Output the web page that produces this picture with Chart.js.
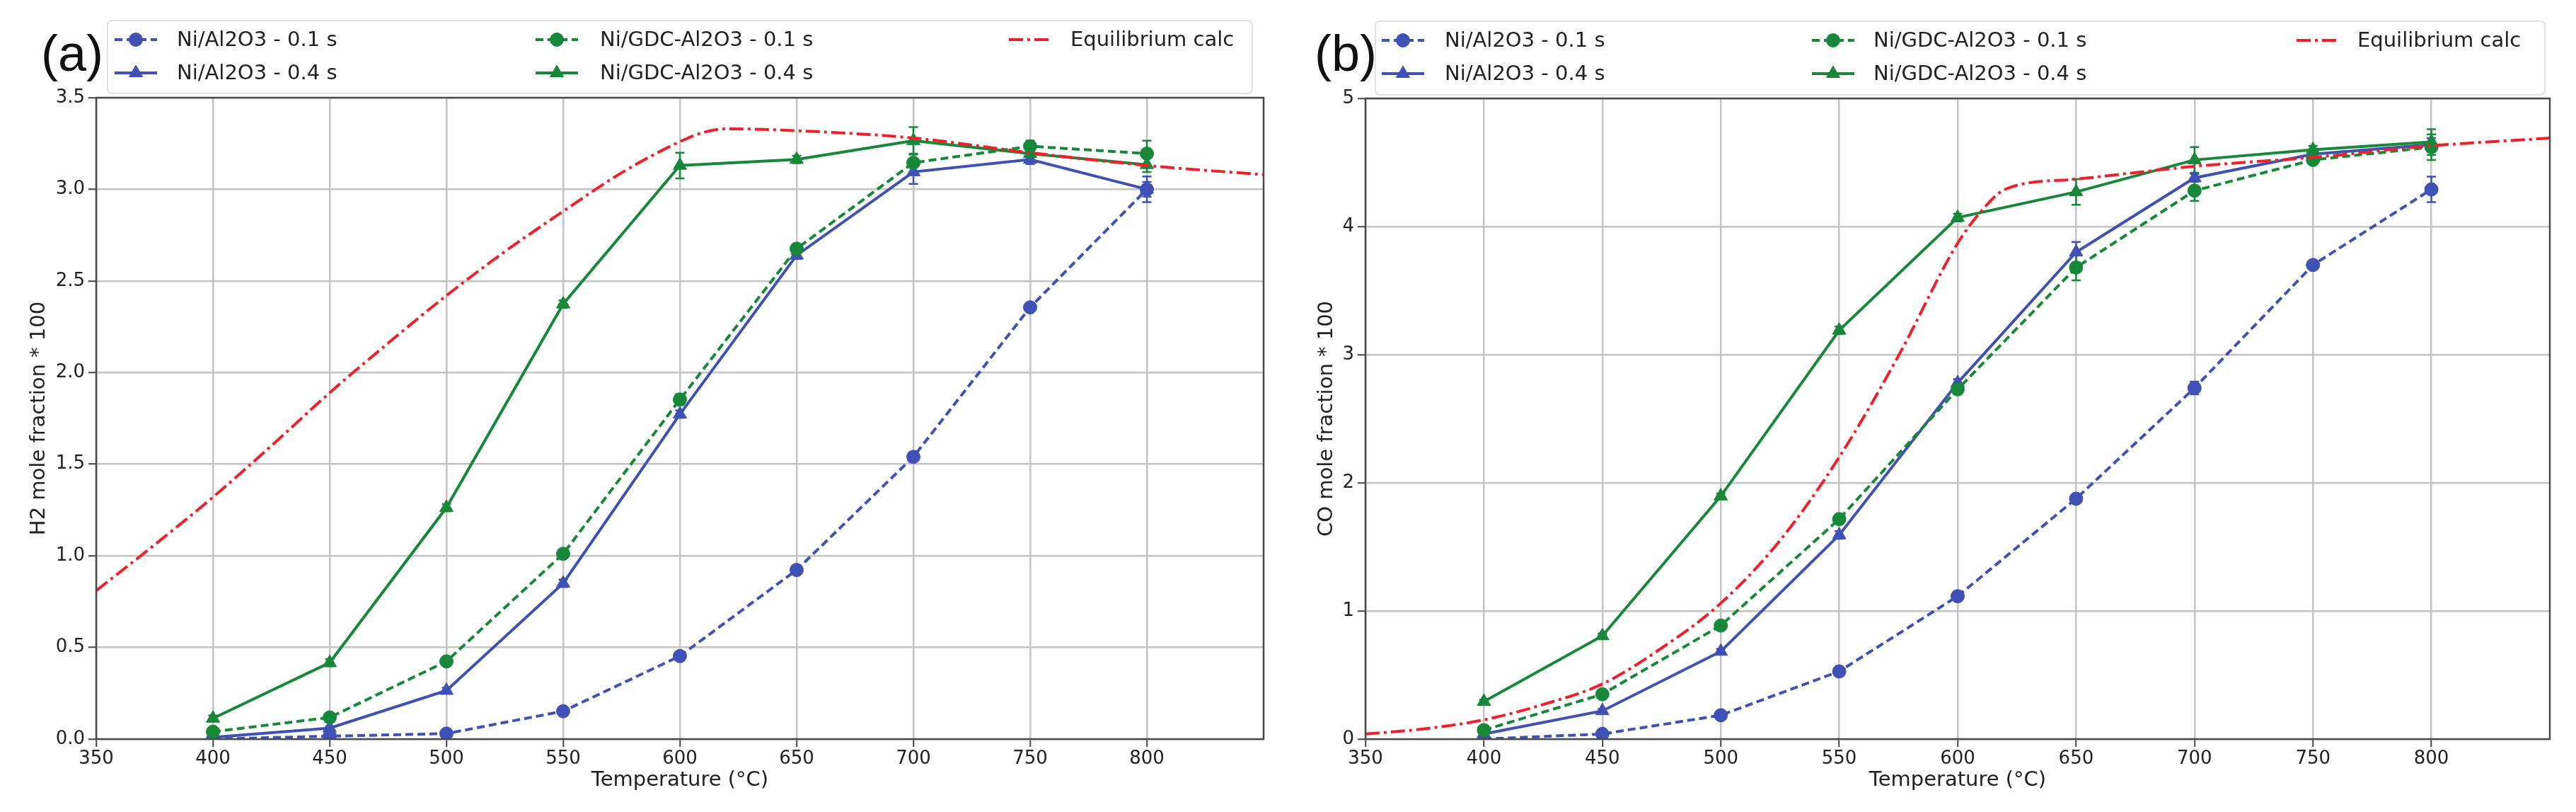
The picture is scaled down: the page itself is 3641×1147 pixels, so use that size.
<!DOCTYPE html>
<html>
<head>
<meta charset="utf-8">
<script src="https://cdn.jsdelivr.net/npm/chart.js@4.4.1/dist/chart.umd.min.js"></script>
<style>
  html, body { margin: 0; padding: 0; background: #fff; }
  #wrap { position: relative; width: 3641px; height: 1147px; overflow: hidden; }
  #wrap canvas { position: absolute; top: 0; }
  #chartA { left: 0; }
  #chartB { left: 1820px; }
</style>
</head>
<body>
<div id="wrap">
  <canvas id="chartA" width="1820" height="1147" style="width:1820px;height:1147px"></canvas>
  <canvas id="chartB" width="1821" height="1147" style="width:1821px;height:1147px"></canvas>
</div>
<script>
// measured temperatures (°C)
var temps = [400, 450, 500, 550, 600, 650, 700, 750, 800];
var eqTemps = [350, 375, 400, 425, 450, 475, 500, 525, 550, 575, 600, 610, 620, 650, 700, 750, 800, 850];

var seriesLabels = ['Ni/Al2O3 - 0.1 s', 'Ni/Al2O3 - 0.4 s', 'Ni/GDC-Al2O3 - 0.1 s', 'Ni/GDC-Al2O3 - 0.4 s', 'Equilibrium calc'];

// (a) H2 mole fraction * 100
var h2NiAl01  = [0.00, 0.016, 0.03, 0.152, 0.453, 0.923, 1.54, 2.356, 3.00];
var h2NiAl04  = [0.01, 0.06, 0.265, 0.85, 1.773, 2.64, 3.095, 3.163, 3.00];
var h2NiGdc01 = [0.04, 0.118, 0.424, 1.011, 1.853, 2.676, 3.145, 3.235, 3.195];
var h2NiGdc04 = [0.113, 0.417, 1.263, 2.374, 3.13, 3.163, 3.265, 3.195, 3.134];
var h2NiAl01Err  = [0.005, 0.005, 0.01, 0.015, 0.015, 0.02, 0.025, 0.02, 0.07];
var h2NiAl04Err  = [0.005, 0.01, 0.015, 0.02, 0.02, 0.02, 0.065, 0.025, 0.04];
var h2NiGdc01Err = [0.01, 0.015, 0.02, 0.02, 0.03, 0.02, 0.05, 0.03, 0.07];
var h2NiGdc04Err = [0.015, 0.02, 0.02, 0.02, 0.07, 0.02, 0.075, 0.02, 0.04];
var h2Eq = [0.81, 1.06, 1.32, 1.60, 1.89, 2.16, 2.42, 2.66, 2.88, 3.09, 3.26, 3.31, 3.33, 3.32, 3.28, 3.20, 3.13, 3.08];

// (b) CO mole fraction * 100
var coNiAl01  = [0.00, 0.04, 0.186, 0.528, 1.115, 1.876, 2.74, 3.70, 4.29];
var coNiAl04  = [0.04, 0.22, 0.684, 1.593, 2.78, 3.80, 4.38, 4.565, 4.64];
var coNiGdc01 = [0.07, 0.35, 0.886, 1.717, 2.73, 3.68, 4.28, 4.52, 4.62];
var coNiGdc04 = [0.293, 0.805, 1.896, 3.19, 4.07, 4.27, 4.52, 4.60, 4.66];
var coNiAl01Err  = [0.005, 0.01, 0.02, 0.02, 0.025, 0.03, 0.05, 0.03, 0.1];
var coNiAl04Err  = [0.01, 0.015, 0.02, 0.03, 0.03, 0.08, 0.03, 0.03, 0.05];
var coNiGdc01Err = [0.01, 0.02, 0.03, 0.03, 0.04, 0.1, 0.08, 0.03, 0.1];
var coNiGdc04Err = [0.015, 0.02, 0.02, 0.03, 0.03, 0.1, 0.1, 0.03, 0.1];
var coEq = [0.04, 0.08, 0.15, 0.27, 0.43, 0.71, 1.06, 1.55, 2.20, 2.99, 3.87, 4.12, 4.29, 4.37, 4.47, 4.54, 4.63, 4.69];

(function(){
  var BLUE = '#3f51b5';
  var GREEN = '#17883a';
  var RED = '#f0202a';
  var FONT = "'DejaVu Sans', 'Liberation Sans', sans-serif";
  var TEXT = '#222';
  var DASH = [11, 6];
  var DASHDOT = [20, 6, 4, 6];

  function pts(xs, ys){
    return xs.map(function(x, i){ return {x: x, y: ys[i]}; });
  }

  function roundedRect(ctx, x, y, w, h, r){
    ctx.beginPath();
    ctx.moveTo(x+r, y);
    ctx.lineTo(x+w-r, y);
    ctx.quadraticCurveTo(x+w, y, x+w, y+r);
    ctx.lineTo(x+w, y+h-r);
    ctx.quadraticCurveTo(x+w, y+h, x+w-r, y+h);
    ctx.lineTo(x+r, y+h);
    ctx.quadraticCurveTo(x, y+h, x, y+h-r);
    ctx.lineTo(x, y+r);
    ctx.quadraticCurveTo(x, y, x+r, y);
    ctx.closePath();
  }

  function marker(ctx, style, x, y, color){
    ctx.save();
    ctx.setLineDash([]);
    ctx.fillStyle = color;
    ctx.strokeStyle = color;
    ctx.lineWidth = 1;
    ctx.beginPath();
    if(style === 'triangle'){
      var r = 11;
      ctx.moveTo(x, y - r);
      ctx.lineTo(x + r*Math.sin(Math.PI*2/3), y - r*Math.cos(Math.PI*2/3));
      ctx.lineTo(x - r*Math.sin(Math.PI*2/3), y - r*Math.cos(Math.PI*2/3));
      ctx.closePath();
    } else {
      ctx.arc(x, y, 9.5, 0, Math.PI*2);
    }
    ctx.fill(); ctx.stroke();
    ctx.restore();
  }

  // error bars, axes frame, legend and panel tag
  var extrasPlugin = {
    id: 'extras',
    beforeDatasetsDraw: function(chart){
      var ctx = chart.ctx, xs = chart.scales.x, ys = chart.scales.y, a = chart.chartArea;
      ctx.save();
      ctx.beginPath();
      ctx.rect(a.left, a.top, a.right - a.left, a.bottom - a.top);
      ctx.clip();
      chart.data.datasets.forEach(function(ds){
        if(!ds.errs) return;
        ctx.strokeStyle = ds.borderColor;
        ctx.lineWidth = 2.5;
        ctx.setLineDash([]);
        ds.data.forEach(function(p, i){
          var e = ds.errs[i];
          var px = xs.getPixelForValue(p.x);
          var y1 = ys.getPixelForValue(p.y - e);
          var y2 = ys.getPixelForValue(p.y + e);
          if(y1 - y2 < 4) return;
          ctx.beginPath();
          ctx.moveTo(px, y1); ctx.lineTo(px, y2);
          ctx.moveTo(px - 6.5, y1); ctx.lineTo(px + 6.5, y1);
          ctx.moveTo(px - 6.5, y2); ctx.lineTo(px + 6.5, y2);
          ctx.stroke();
        });
      });
      ctx.restore();
    },
    afterDatasetsDraw: function(chart){
      var ctx = chart.ctx, a = chart.chartArea;
      ctx.save();
      ctx.strokeStyle = '#4a4a4a';
      ctx.lineWidth = 2.5;
      ctx.strokeRect(a.left, a.top, a.right - a.left, a.bottom - a.top);
      ctx.restore();
    },
    afterDraw: function(chart, args, opts){
      var ctx = chart.ctx;
      var lg = opts.legend;
      ctx.save();
      // legend box
      roundedRect(ctx, lg.box[0], lg.box[1], lg.box[2], lg.box[3], 7);
      ctx.fillStyle = 'rgba(255,255,255,0.85)';
      ctx.fill();
      ctx.strokeStyle = '#d9d9d9';
      ctx.lineWidth = 1.5;
      ctx.stroke();

      ctx.font = '29px ' + FONT;
      ctx.textBaseline = 'middle';
      ctx.textAlign = 'left';
      chart.data.datasets.forEach(function(ds, i){
        var col = Math.floor(i / 2), row = i % 2;
        var hx = lg.handleX[col], tx = lg.textX[col], hy = lg.rows[row];
        ctx.strokeStyle = ds.borderColor;
        ctx.lineWidth = 4;
        ctx.setLineDash(ds.borderDash || []);
        ctx.beginPath();
        ctx.moveTo(hx, hy); ctx.lineTo(hx + 60, hy);
        ctx.stroke();
        ctx.setLineDash([]);
        if(ds.pointRadius !== 0) marker(ctx, ds.pointStyle, hx + 30, hy, ds.borderColor);
        ctx.fillStyle = TEXT;
        ctx.fillText(ds.label, tx, hy + 1);
      });

      // panel tag
      ctx.font = '72px "Liberation Sans", Arial, sans-serif';
      ctx.textBaseline = 'alphabetic';
      ctx.fillStyle = '#111';
      ctx.fillText(opts.tag, opts.tagX, 100);
      ctx.restore();
    }
  };

  function makePanel(id, p){
    var el = document.getElementById(id);
    var datasets = [
      {label: seriesLabels[0], data: pts(temps, p.s1), errs: p.e1, borderColor: BLUE, backgroundColor: BLUE, borderDash: DASH, pointStyle: 'circle', pointRadius: 9.5, order: 4},
      {label: seriesLabels[1], data: pts(temps, p.s2), errs: p.e2, borderColor: BLUE, backgroundColor: BLUE, pointStyle: 'triangle', pointRadius: 11, order: 3},
      {label: seriesLabels[2], data: pts(temps, p.s3), errs: p.e3, borderColor: GREEN, backgroundColor: GREEN, borderDash: DASH, pointStyle: 'circle', pointRadius: 9.5, order: 2},
      {label: seriesLabels[3], data: pts(temps, p.s4), errs: p.e4, borderColor: GREEN, backgroundColor: GREEN, pointStyle: 'triangle', pointRadius: 11, order: 1},
      {label: seriesLabels[4], data: pts(eqTemps, p.eq), borderColor: RED, backgroundColor: RED, borderDash: DASHDOT, pointRadius: 0, cubicInterpolationMode: 'monotone', order: 0}
    ];
    datasets.forEach(function(ds){
      ds.borderWidth = 4;
      ds.pointBorderWidth = 1;
      ds.pointBackgroundColor = ds.borderColor;
      ds.pointBorderColor = ds.borderColor;
      ds.fill = false;
      ds.tension = 0;
    });

    return new Chart(el.getContext('2d'), {
      type: 'line',
      data: { datasets: datasets },
      options: {
        responsive: false,
        animation: false,
        devicePixelRatio: 1,
        events: [],
        parsing: false,
        layout: { padding: { left: 0, top: p.top, right: p.right, bottom: 0 } },
        scales: {
          x: {
            type: 'linear',
            min: 350,
            max: 850,
            afterBuildTicks: function(scale){
              scale.ticks = scale.ticks.filter(function(t){ return t.value <= 800; });
            },
            afterFit: function(scale){ scale.height = 103; },
            border: { display: false },
            grid: { color: '#c4c4c4', lineWidth: 2.5, tickLength: 11, tickColor: '#444', tickWidth: 2 },
            ticks: { stepSize: 50, color: TEXT, padding: 2, maxRotation: 0, font: { family: FONT, size: 26 } },
            title: { display: true, text: 'Temperature (°C)', color: TEXT, padding: { bottom: 27 }, font: { family: FONT, size: 29 } }
          },
          y: {
            min: 0,
            max: p.yMax,
            afterFit: function(scale){ scale.width = p.left; },
            border: { display: false },
            grid: { color: '#c4c4c4', lineWidth: 2.5, tickLength: 11, tickColor: '#444', tickWidth: 2 },
            ticks: {
              stepSize: p.yStep,
              color: TEXT,
              padding: 5,
              font: { family: FONT, size: 26 },
              callback: function(v){ return Number(v).toFixed(p.decimals); }
            },
            title: { display: true, text: p.yTitle, color: TEXT, padding: { top: 38 }, font: { family: FONT, size: 29 } }
          }
        },
        plugins: {
          legend: { display: false },
          tooltip: { enabled: false },
          extras: { legend: p.legend, tag: p.tag, tagX: p.tagX }
        }
      },
      plugins: [extrasPlugin]
    });
  }

  function init(){
    if(typeof Chart === 'undefined') return;
    makePanel('chartA', {
      s1: h2NiAl01, s2: h2NiAl04, s3: h2NiGdc01, s4: h2NiGdc04,
      e1: h2NiAl01Err, e2: h2NiAl04Err, e3: h2NiGdc01Err, e4: h2NiGdc04Err,
      eq: h2Eq,
      yMax: 3.5, yStep: 0.5, decimals: 1,
      yTitle: 'H2 mole fraction * 100',
      left: 136, top: 138, right: 34,
      tag: '(a)', tagX: 58,
      legend: { box: [152, 29, 1618, 103], rows: [56, 103], handleX: [162, 757, 1426], textX: [250, 848, 1513] }
    });
    makePanel('chartB', {
      s1: coNiAl01, s2: coNiAl04, s3: coNiGdc01, s4: coNiGdc04,
      e1: coNiAl01Err, e2: coNiAl04Err, e3: coNiGdc01Err, e4: coNiGdc04Err,
      eq: coEq,
      yMax: 5, yStep: 1, decimals: 0,
      yTitle: 'CO mole fraction * 100',
      left: 110, top: 139, right: 37,
      tag: '(b)', tagX: 38,
      legend: { box: [124, 30, 1653, 104], rows: [57, 104], handleX: [133, 741, 1426], textX: [222, 828, 1512] }
    });
  }

  if(document.readyState === 'loading'){
    document.addEventListener('DOMContentLoaded', init);
  } else { init(); }
})();
</script>
</body>
</html>
